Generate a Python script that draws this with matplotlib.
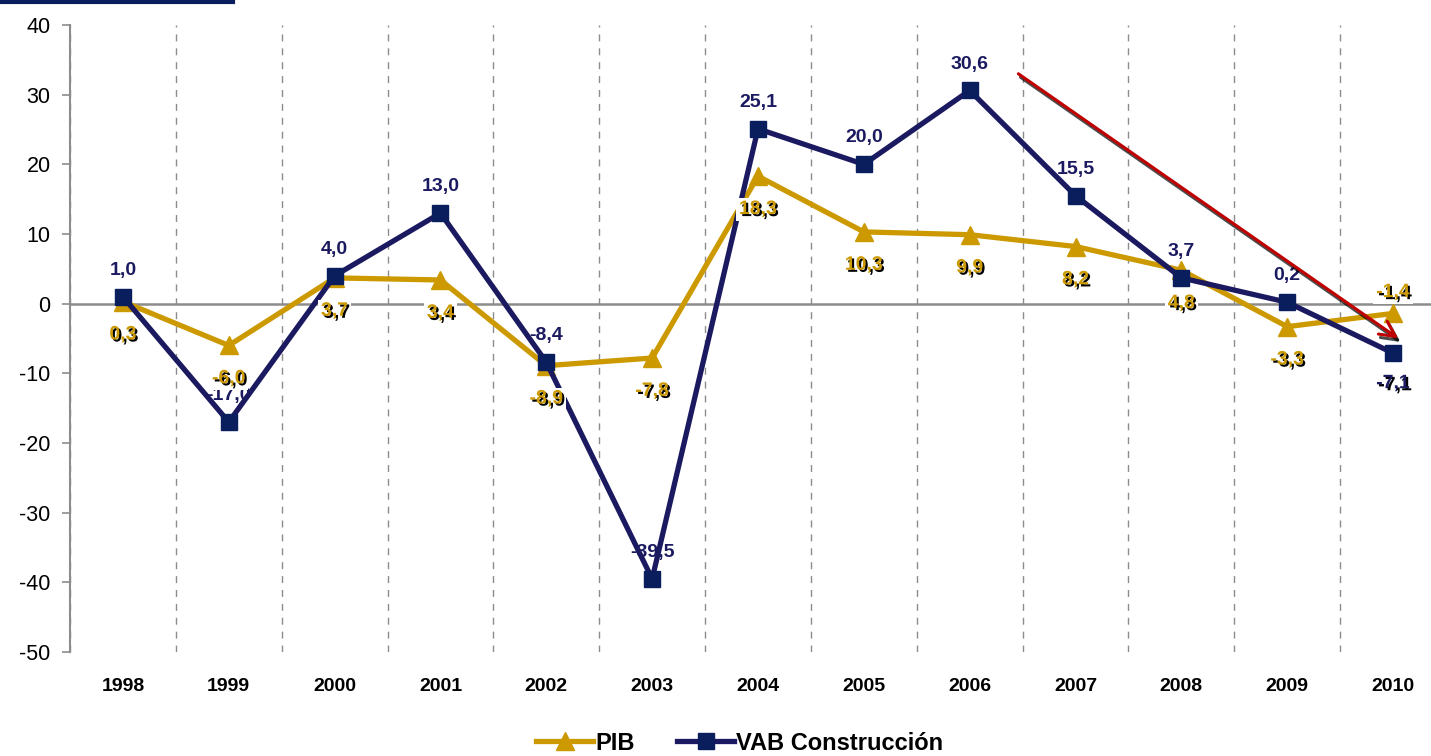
import numpy as np
import matplotlib
matplotlib.use("Agg")
import matplotlib.pyplot as plt
import matplotlib.patheffects as pe
from matplotlib.lines import Line2D

plt.rcParams['font.family'] = ['Liberation Sans', 'DejaVu Sans']
plt.rcParams['axes.unicode_minus'] = False

years = ['1998', '1999', '2000', '2001', '2002', '2003', '2004',
         '2005', '2006', '2007', '2008', '2009', '2010']
pib = [0.3, -6.0, 3.7, 3.4, -8.9, -7.8, 18.3, 10.3, 9.9, 8.2, 4.8, -3.3, -1.4]
vab = [1.0, -17.0, 4.0, 13.0, -8.4, -39.5, 25.1, 20.0, 30.6, 15.5, 3.7, 0.2, -7.1]
yticks = [-50, -40, -30, -20, -10, 0, 10, 20, 30, 40]

GOLD = '#CC9A00'
NAVY = '#1B1A60'
NAVY_M = '#0A1E5E'
GRAY = '#8C8C8C'

def fmt(v):
    return ('%.1f' % v).replace('.', ',')

fig = plt.figure(figsize=(14.31, 7.56), dpi=100)
ax = fig.add_axes([70/1431, 104/756, 1376/1431, 627/756])

x = np.arange(len(years))

ax.plot(x, pib, color=GOLD, lw=3.8, marker='^', ms=13, mfc=GOLD, mec=GOLD,
        label='PIB', zorder=3)
ax.plot(x, vab, color=NAVY, lw=3.8, marker='s', ms=12, mfc=NAVY_M, mec=NAVY_M,
        label='VAB Construcción', zorder=4)

# etiquetas VAB (encima, salvo la ultima)
for i, v in enumerate(vab):
    dy = 19 if i != len(vab) - 1 else -22
    t = ax.annotate(fmt(v), (x[i], v), xytext=(0, dy), textcoords='offset points',
                    ha='center', va='center', fontsize=14, fontweight='bold',
                    color=NAVY, zorder=6)
    if i == len(vab) - 1:
        t.set_path_effects([pe.withSimplePatchShadow(offset=(1.5, -1.5),
                                                     shadow_rgbFace='black', alpha=1)])

# etiquetas PIB (debajo, salvo la ultima)
for i, v in enumerate(pib):
    dy = -24 if i != len(pib) - 1 else 15
    t = ax.annotate(fmt(v), (x[i], v), xytext=(0, dy), textcoords='offset points',
                    ha='center', va='center', fontsize=14, fontweight='bold',
                    color=GOLD, zorder=7,
                    bbox=dict(boxstyle='square,pad=0.15', fc='white', ec='none'))
    t.set_path_effects([pe.withSimplePatchShadow(offset=(1.5, -1.5),
                                                 shadow_rgbFace='black', alpha=1)])

# flecha roja de tendencia
ann = ax.annotate('', xy=(12.05, -5.0), xytext=(8.46, 33.0),
                  arrowprops=dict(arrowstyle='->', color='#C00000', lw=2.2,
                                  mutation_scale=28, shrinkA=0, shrinkB=0),
                  zorder=8)
ann.arrow_patch.set_path_effects([pe.SimpleLineShadow(offset=(1.5, -2.5),
                                                      shadow_color='black', alpha=0.7),
                                  pe.Normal()])

ax.set_xlim(-0.5, 12.5)
ax.set_ylim(-50, 40)
ax.set_yticks(yticks)
ax.set_yticklabels([str(v) for v in yticks], fontsize=15.5)
ax.set_xticks(x)
ax.set_xticklabels(years, fontsize=14, fontweight='bold')
ax.set_xticks(np.arange(-0.5, 12.6, 1.0), minor=True)
ax.tick_params(axis='x', which='both', length=0, pad=19)
ax.tick_params(axis='y', length=6, color=GRAY, width=1.2, pad=8)
ax.grid(which='minor', axis='x', color=GRAY, ls=(0, (5, 5)), lw=1)

for s in ['top', 'right', 'bottom']:
    ax.spines[s].set_visible(False)
ax.spines['left'].set_color(GRAY)
ax.spines['left'].set_linewidth(1.5)
ax.axhline(0, color=GRAY, lw=1.8, zorder=2)

fig.add_artist(Line2D([0, 233/1431], [1 - 1.5/756] * 2, color=NAVY_M, lw=3))

leg = fig.legend(loc='center', bbox_to_anchor=(0.517, 0.017), ncol=2, frameon=False,
                 prop={'size': 17, 'weight': 'bold'}, handlelength=2.4,
                 columnspacing=1.8, handletextpad=0.1)

fig.savefig('out.png', dpi=100)
